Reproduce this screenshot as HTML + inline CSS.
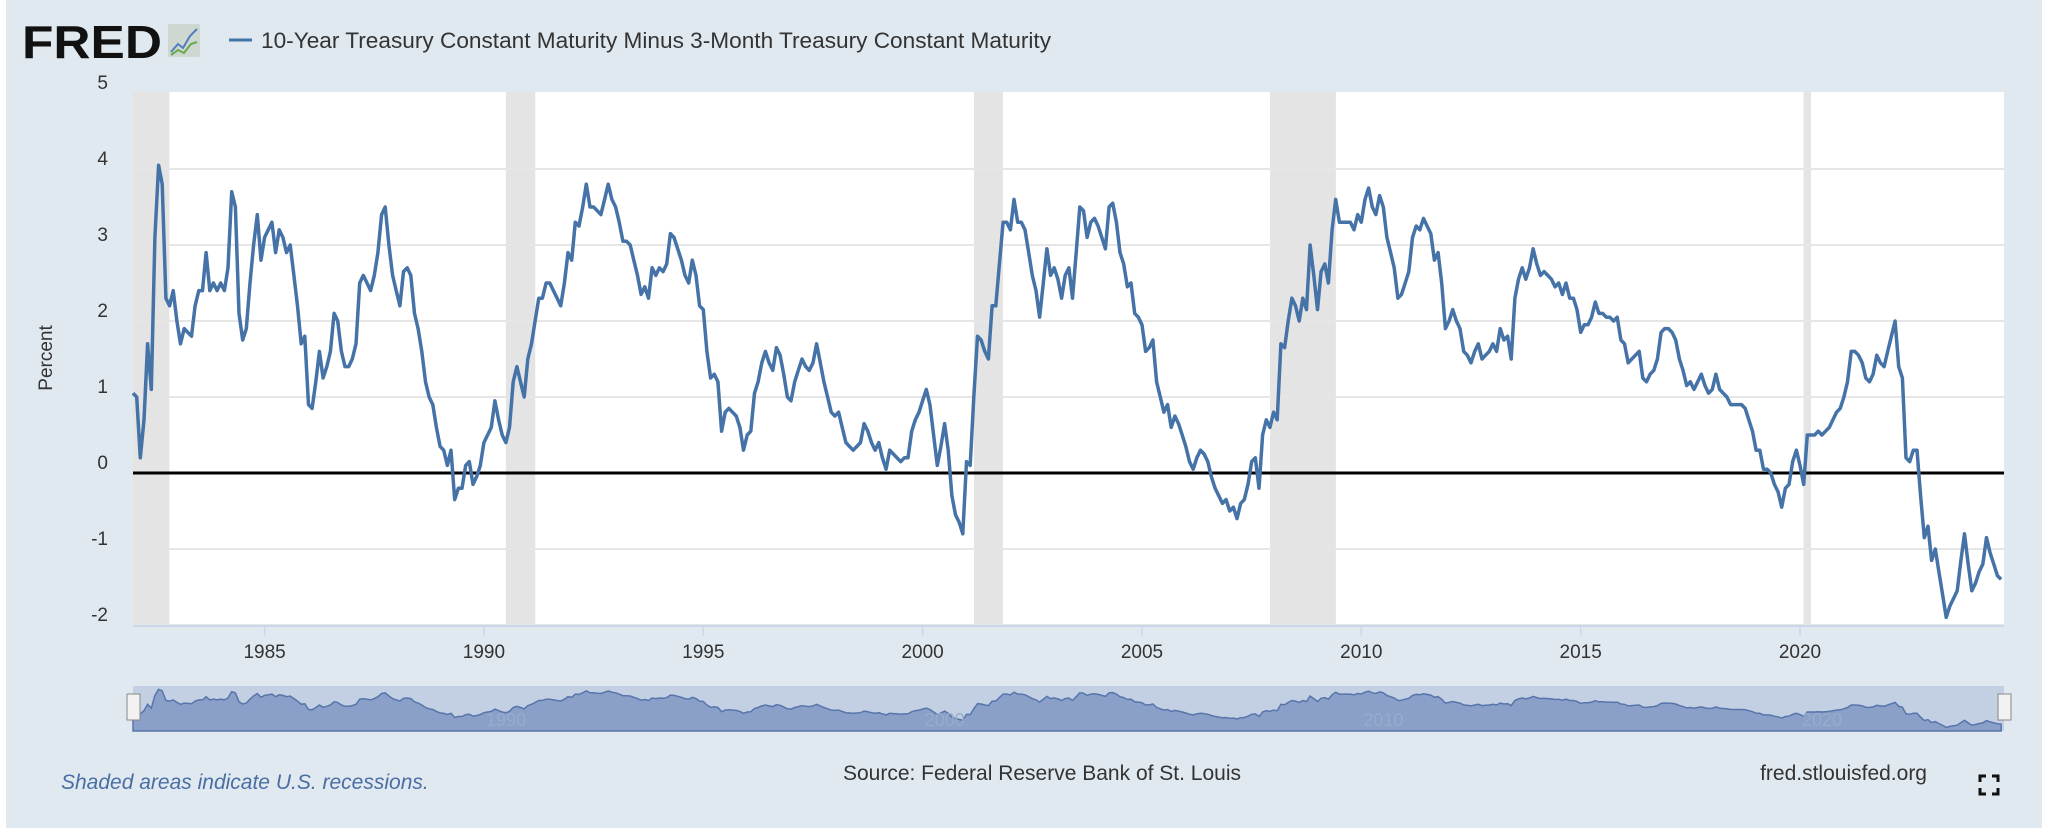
<!DOCTYPE html>
<html><head><meta charset="utf-8"><style>
html,body{margin:0;padding:0;background:#fff;}
svg{display:block;font-family:"Liberation Sans",sans-serif;}
</style></head><body>
<svg id="chart" width="2048" height="831" viewBox="0 0 2048 831" xmlns="http://www.w3.org/2000/svg">
<rect x="6" y="0" width="2036" height="828" fill="#e1e9f0"/>
<g>
<text x="22" y="58" font-size="46" font-weight="bold" fill="#111" textLength="140" lengthAdjust="spacingAndGlyphs">FRED</text>
<rect x="168" y="24" width="32" height="33" fill="#cfd8d0" rx="2"/>
<polyline points="171,52 178,44 183,48 190,36 197,29" fill="none" stroke="#4f7fbf" stroke-width="2"/>
<polyline points="171,55 178,50 184,53 191,44 197,42" fill="none" stroke="#6aa84f" stroke-width="2"/>
</g>
<line x1="229" y1="40" x2="252" y2="40" stroke="#4572a7" stroke-width="3"/>
<text x="261" y="48" font-size="22" fill="#333" textLength="790" lengthAdjust="spacingAndGlyphs">10-Year Treasury Constant Maturity Minus 3-Month Treasury Constant Maturity</text>
<rect x="133" y="92" width="1871" height="533" fill="#fff"/>
<g id="rec"></g><g id="grid"></g><g id="yl"></g><g id="xl"></g>
<line id="zero" x1="133" x2="2004" stroke="#000" stroke-width="3"/>
<path id="series" fill="none" stroke="#4572a7" stroke-width="3.5" stroke-linejoin="round"/>
<text transform="translate(52,358) rotate(-90)" text-anchor="middle" font-size="19" fill="#333">Percent</text>
<g>
<rect x="133" y="686" width="1871" height="45" fill="#c3cfe3"/>
<path id="navArea" fill="#8aa0c8" stroke="#5775aa" stroke-width="1.5"/>
<g id="navLabels"></g>
<rect x="127" y="694" width="13" height="26" fill="#f2f2f2" stroke="#888"/>
<rect x="1998" y="694" width="13" height="26" fill="#f2f2f2" stroke="#888"/>
</g>
<text x="61" y="789" font-size="21" font-style="italic" fill="#4a6ea4">Shaded areas indicate U.S. recessions.</text>
<text x="1042" y="780" text-anchor="middle" font-size="21" fill="#333">Source: Federal Reserve Bank of St. Louis</text>
<text x="1927" y="780" text-anchor="end" font-size="21" fill="#333">fred.stlouisfed.org</text>
<g stroke="#111" stroke-width="3" fill="none">
<polyline points="1980,782 1980,776 1986,776"/><polyline points="1992,776 1998,776 1998,782"/>
<polyline points="1980,788 1980,794 1986,794"/><polyline points="1992,794 1998,794 1998,788"/>
</g>
</svg>
<script>
const startYear = 1982;
const values = [
1.05,1.0,0.2,0.7,1.7,1.1,3.1,4.05,3.8,2.3,2.2,2.4,
2.0,1.7,1.9,1.85,1.8,2.2,2.4,2.4,2.9,2.4,2.5,2.4,
2.5,2.4,2.7,3.7,3.5,2.1,1.75,1.9,2.5,3.0,3.4,2.8,
3.1,3.2,3.3,2.9,3.2,3.1,2.9,3.0,2.6,2.2,1.7,1.8,
0.9,0.85,1.2,1.6,1.25,1.4,1.6,2.1,2.0,1.6,1.4,1.4,
1.5,1.7,2.5,2.6,2.5,2.4,2.6,2.9,3.4,3.5,3.0,2.6,
2.4,2.2,2.65,2.7,2.6,2.1,1.9,1.6,1.2,1.0,0.9,0.6,
0.35,0.3,0.1,0.3,-0.35,-0.2,-0.2,0.1,0.15,-0.15,-0.05,0.1,
0.4,0.5,0.6,0.95,0.7,0.5,0.4,0.6,1.2,1.4,1.2,1.0,
1.5,1.7,2.0,2.3,2.3,2.5,2.5,2.4,2.3,2.2,2.5,2.9,
2.8,3.3,3.25,3.5,3.8,3.5,3.5,3.45,3.4,3.6,3.8,3.6,
3.5,3.3,3.05,3.05,3.0,2.8,2.6,2.35,2.45,2.3,2.7,2.6,
2.7,2.65,2.75,3.15,3.1,2.95,2.8,2.6,2.5,2.8,2.6,2.2,
2.15,1.6,1.25,1.3,1.2,0.55,0.8,0.85,0.8,0.75,0.6,0.3,
0.5,0.55,1.05,1.2,1.45,1.6,1.45,1.35,1.65,1.55,1.3,1.0,
0.95,1.2,1.35,1.5,1.4,1.35,1.45,1.7,1.45,1.2,1.0,0.8,
0.75,0.8,0.6,0.4,0.35,0.3,0.35,0.4,0.65,0.55,0.4,0.3,
0.4,0.2,0.05,0.3,0.25,0.2,0.15,0.2,0.2,0.55,0.7,0.8,
0.95,1.1,0.9,0.5,0.1,0.35,0.65,0.3,-0.3,-0.55,-0.65,-0.8,
0.15,0.1,1.0,1.8,1.75,1.6,1.5,2.2,2.2,2.75,3.3,3.3,
3.2,3.6,3.3,3.3,3.2,2.9,2.6,2.4,2.05,2.5,2.95,2.6,
2.7,2.55,2.3,2.6,2.7,2.3,2.9,3.5,3.45,3.1,3.3,3.35,
3.25,3.1,2.95,3.5,3.55,3.3,2.9,2.75,2.45,2.5,2.1,2.05,
1.95,1.6,1.65,1.75,1.2,1.0,0.8,0.9,0.6,0.75,0.65,0.5,
0.35,0.15,0.05,0.2,0.3,0.25,0.15,-0.05,-0.2,-0.3,-0.4,-0.35,
-0.5,-0.45,-0.6,-0.4,-0.35,-0.15,0.15,0.2,-0.2,0.5,0.7,0.6,
0.8,0.7,1.7,1.65,2.0,2.3,2.2,2.0,2.3,2.15,3.0,2.6,
2.15,2.65,2.75,2.5,3.2,3.6,3.3,3.3,3.3,3.3,3.2,3.4,
3.3,3.6,3.75,3.5,3.4,3.65,3.5,3.1,2.9,2.7,2.3,2.35,
2.5,2.65,3.1,3.25,3.2,3.35,3.25,3.15,2.8,2.9,2.5,1.9,
2.0,2.15,2.0,1.9,1.6,1.55,1.45,1.6,1.7,1.5,1.55,1.6,
1.7,1.6,1.9,1.75,1.8,1.5,2.3,2.55,2.7,2.55,2.7,2.95,
2.75,2.6,2.65,2.6,2.55,2.45,2.5,2.35,2.5,2.3,2.3,2.15,
1.85,1.95,1.95,2.05,2.25,2.1,2.1,2.05,2.05,2.0,2.05,1.75,
1.7,1.45,1.5,1.55,1.6,1.25,1.2,1.3,1.35,1.5,1.85,1.9,
1.9,1.85,1.75,1.5,1.35,1.15,1.2,1.1,1.2,1.3,1.15,1.05,
1.1,1.3,1.1,1.05,1.0,0.9,0.9,0.9,0.9,0.85,0.7,0.55,
0.3,0.3,0.05,0.05,0.0,-0.15,-0.25,-0.45,-0.2,-0.15,0.15,0.3,
0.1,-0.15,0.5,0.5,0.5,0.55,0.5,0.55,0.6,0.7,0.8,0.85,
1.0,1.2,1.6,1.6,1.55,1.45,1.25,1.2,1.3,1.55,1.45,1.4,
1.6,1.8,2.0,1.4,1.25,0.2,0.15,0.3,0.3,-0.3,-0.85,-0.7,
-1.15,-1.0,-1.3,-1.6,-1.9,-1.75,-1.65,-1.55,-1.15,-0.8,-1.2,-1.55,
-1.45,-1.3,-1.2,-0.85,-1.05,-1.2,-1.35,-1.4
];
const yTicks = [5,4,3,2,1,0,-1,-2];
const xTicks = [1985,1990,1995,2000,2005,2010,2015,2020];
const navTicks = [1990,2000,2010,2020];
const recStarts = [1981.5,1990.5,2001.17,2007.92,2020.08];
const recEnds = [1982.83,1991.17,2001.83,2009.42,2020.25];

const X0=133,X1=2004,T0=1982.0,T1=2024.65;
const xs=t=>X0+(t-T0)/(T1-T0)*(X1-X0);
const ys=v=>473-v*76;
const nys=v=>728-(v+2)/6.1*39;
const NS='http://www.w3.org/2000/svg';
function mk(tag,attrs,parent,txt){const e=document.createElementNS(NS,tag);for(const k in attrs)e.setAttribute(k,attrs[k]);if(txt!==undefined)e.textContent=txt;parent.appendChild(e);return e;}
const rec=document.getElementById('rec'),grid=document.getElementById('grid'),yl=document.getElementById('yl'),xl=document.getElementById('xl'),nl=document.getElementById('navLabels');
recStarts.forEach((s,i)=>{const a=Math.max(xs(s),X0),b=xs(recEnds[i]);
const r=mk('rect',{x:a,y:92,width:b-a,height:533,fill:'#e4e4e4'},rec);

});
yTicks.forEach(v=>{if(v!==0&&v!==5){const l=mk('line',{x1:X0,x2:X1,y1:ys(v),y2:ys(v),stroke:'#e6e6e6','stroke-width':2},grid);

}
const t=mk('text',{x:108,y:ys(v)-4,'text-anchor':'end','font-size':19,fill:'#333'},yl,String(v));

});
mk('line',{x1:X0,x2:X1,y1:626,y2:626,stroke:'#ccd6eb','stroke-width':2},xl);
xTicks.forEach(y=>{const x=xs(y);mk('line',{x1:x,x2:x,y1:626,y2:636,stroke:'#ccd6eb','stroke-width':1.5},xl);
const t=mk('text',{x:x,y:658,'text-anchor':'middle','font-size':19,fill:'#333'},xl,String(y));

});
const z=document.getElementById('zero');z.setAttribute('y1',ys(0));z.setAttribute('y2',ys(0));
let d='',nd='';
values.forEach((v,i)=>{const x=xs(startYear+i/12);d+=(i?'L':'M')+x.toFixed(1)+','+ys(v).toFixed(1);nd+='L'+x.toFixed(1)+','+nys(v).toFixed(1);});
document.getElementById('series').setAttribute('d',d);
const lastX=xs(startYear+(values.length-1)/12);
document.getElementById('navArea').setAttribute('d','M'+X0+',731'+nd+'L'+lastX.toFixed(1)+',731Z');
navTicks.forEach(y=>{const t=mk('text',{x:xs(y)+2,y:726,'font-size':18,fill:'#9aabcb'},nl,String(y));

});
</script>
</body></html>
